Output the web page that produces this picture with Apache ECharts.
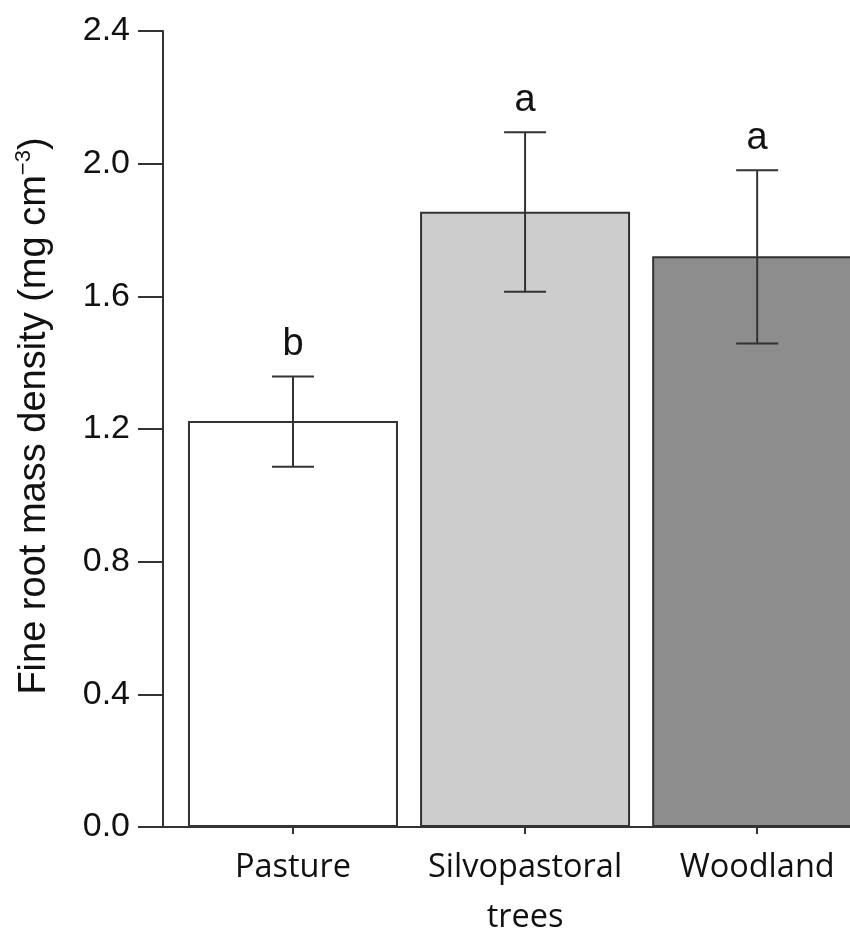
<!DOCTYPE html>
<html>
<head>
<meta charset="utf-8">
<script src="https://cdn.jsdelivr.net/npm/echarts@6/dist/echarts.min.js"></script>
<style>
  html, body { margin: 0; padding: 0; background: #ffffff; }
  #chart { width: 850px; height: 929px; }
</style>
</head>
<body>
<div id="chart"></div>
<script>
// Fine root mass density by land use (mean with error bar range)
const categories = ['Pasture', 'Silvopastoral\ntrees', 'Woodland'];
const categoryPositions = [0, 1, 2];
const meanDensity = [1.224, 1.855, 1.721];
const errorLow = [1.086, 1.614, 1.458];
const errorHigh = [1.358, 2.095, 1.980];
const groupLetters = ['b', 'a', 'a'];
const yTickValues = [0, 0.4, 0.8, 1.2, 1.6, 2.0, 2.4];

const barColors = ['#ffffff', '#cdcdcd', '#8d8d8d'];
const inkColor = '#333333';
const numFont = '"Liberation Sans", Arial, sans-serif';
const catFont = '"Open Sans", Lato, sans-serif';

const chart = echarts.init(document.getElementById('chart'), null, { renderer: 'canvas' });

const barData = categoryPositions.map((x, i) => ({
  value: [x, meanDensity[i]],
  itemStyle: { color: barColors[i] }
}));

const errorData = categoryPositions.map((x, i) => [x, errorLow[i], errorHigh[i], i]);

function renderErrorBar(params, api) {
  const x = api.value(0);
  const lo = api.coord([x, api.value(1)]);
  const hi = api.coord([x, api.value(2)]);
  const cap = 21;
  const lineStyle = { stroke: inkColor, lineWidth: 2 };
  const idx = api.value(3);
  return {
    type: 'group',
    children: [
      { type: 'line', shape: { x1: hi[0], y1: hi[1], x2: lo[0], y2: lo[1] }, style: lineStyle },
      { type: 'line', shape: { x1: hi[0] - cap, y1: hi[1], x2: hi[0] + cap, y2: hi[1] }, style: lineStyle },
      { type: 'line', shape: { x1: lo[0] - cap, y1: lo[1], x2: lo[0] + cap, y2: lo[1] }, style: lineStyle },
      {
        type: 'text',
        style: {
          x: hi[0], y: hi[1] - 32,
          text: groupLetters[idx],
          fill: '#111111',
          font: '38px ' + numFont,
          textAlign: 'center',
          textVerticalAlign: 'middle'
        }
      }
    ]
  };
}

chart.setOption({
  animation: false,
  backgroundColor: '#ffffff',
  grid: { left: 163, right: 0, top: 31, bottom: 102, outerBoundsMode: 'none', containLabel: false },
  xAxis: {
    type: 'value',
    min: -0.56,
    max: 2.4,
    splitLine: { show: false },
    axisLine: { show: true, onZero: false, lineStyle: { color: inkColor, width: 2 } },
    axisTick: { show: true, customValues: categoryPositions, length: 7, inside: false, lineStyle: { color: inkColor, width: 2 } },
    axisLabel: {
      show: true,
      customValues: categoryPositions,
      formatter: (v) => categories[Math.round(v)],
      fontFamily: catFont,
      fontSize: 32.5,
      color: '#111111',
      lineHeight: 50,
      margin: 16
    }
  },
  yAxis: {
    type: 'value',
    min: 0,
    max: 2.4,
    interval: 0.4,
    splitLine: { show: false },
    axisLine: { show: true, onZero: false, lineStyle: { color: inkColor, width: 2 } },
    axisTick: { show: true, length: 25, inside: false, lineStyle: { color: inkColor, width: 2 } },
    axisLabel: {
      formatter: (v) => v.toFixed(1),
      fontFamily: numFont,
      fontSize: 34,
      color: '#111111',
      margin: 33
    },
    name: 'Fine root mass density (mg cm{sup|−3})',
    nameLocation: 'middle',
    nameRotate: 90,
    nameGap: 106,
    nameTextStyle: {
      fontFamily: numFont,
      fontSize: 38,
      color: '#111111',
      lineHeight: 44,
      padding: [0, 0, 0, 26],
      rich: {
        sup: { fontFamily: numFont, fontSize: 22, lineHeight: 22, verticalAlign: 'top', color: '#111111' }
      }
    }
  },
  series: [
    {
      type: 'bar',
      data: barData,
      barWidth: 210,
      itemStyle: { borderColor: inkColor, borderWidth: 2 }
    },
    {
      type: 'custom',
      data: errorData,
      renderItem: renderErrorBar,
      encode: { x: 0, y: [1, 2] },
      z: 5,
      clip: false
    }
  ]
});
</script>
</body>
</html>
